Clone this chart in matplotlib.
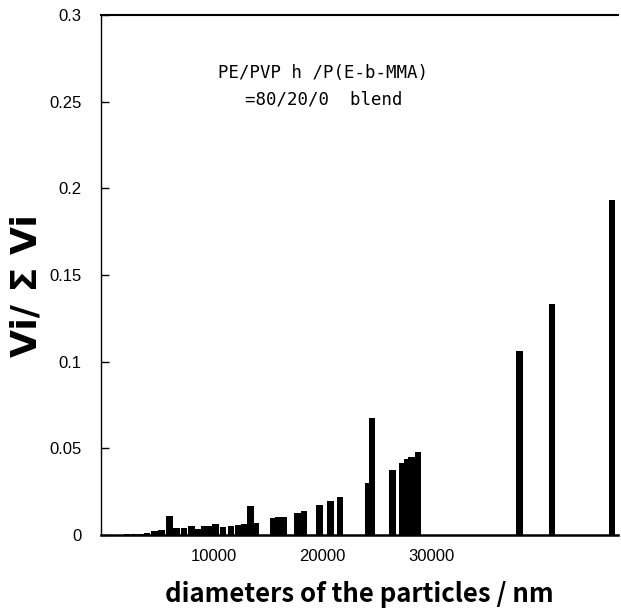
import matplotlib
matplotlib.use("Agg")
import matplotlib.pyplot as plt

# particle diameters (nm) and volume fractions
diameters = [2020, 2660, 3300, 3850, 4540, 5180, 5920, 6560, 7250, 7940,
             8580, 9130, 9540, 10140, 10830, 11560, 12250, 12800, 13350, 13810,
             15410, 15920, 16380, 17660, 18260, 19720, 20730, 21560, 24220, 24540,
             26420, 27290, 27750, 28160, 28760, 38070, 41050, 46560]
fractions = [0.0006, 0.0007, 0.0008, 0.001, 0.0025, 0.003, 0.011, 0.0042, 0.0039, 0.005,
             0.0033, 0.005, 0.005, 0.0063, 0.0046, 0.0054, 0.006, 0.0063, 0.0166, 0.007,
             0.0096, 0.0104, 0.0106, 0.0129, 0.0138, 0.0171, 0.0196, 0.0217, 0.0298, 0.0673,
             0.0375, 0.0414, 0.0438, 0.0448, 0.0479, 0.106, 0.1335, 0.193]

y_ticks = [0, 0.05, 0.1, 0.15, 0.2, 0.25, 0.3]
y_labels = ["0", "0.05", "0.1", "0.15", "0.2", "0.25", "0.3"]
x_ticks = [10000, 20000, 30000]

fig = plt.figure(figsize=(6.21, 6.09), dpi=100)
ax = fig.add_axes([0.1626, 0.1215, 0.8324, 0.8539])

ax.bar(diameters, fractions, width=600, color="black", align="center")

ax.set_xlim(-370, 47100)
ax.set_ylim(0, 0.3)
ax.set_yticks(y_ticks)
ax.set_yticklabels(y_labels, family="Liberation Sans", fontsize=12)
ax.set_xticks(x_ticks)
ax.set_xticklabels([str(v) for v in x_ticks], family="Liberation Sans", fontsize=12)
ax.tick_params(axis="y", direction="in", length=6, width=1, pad=14)
ax.tick_params(axis="x", length=0, pad=10)

ax.spines["right"].set_visible(False)
ax.spines["top"].set_linewidth(1.5)
ax.spines["bottom"].set_linewidth(1.8)
ax.spines["left"].set_linewidth(1.0)

ax.set_xlabel("diameters of the particles / nm", family="Noto Sans CJK JP",
              fontweight="bold", fontsize=18.5, labelpad=12)
ax.set_ylabel("Vi/ Σ Vi", family="DejaVu Sans", fontweight="bold", fontsize=26)
ax.yaxis.set_label_coords(-0.112, 0.48)

ax.text(0.43, 0.863, "PE/PVP h /P(E-b-MMA)\n=80/20/0  blend",
        transform=ax.transAxes, ha="center", va="center", multialignment="center",
        family="DejaVu Sans Mono", fontsize=12.5, linespacing=1.6)

plt.savefig("out.png", dpi=100)
plt.close()
